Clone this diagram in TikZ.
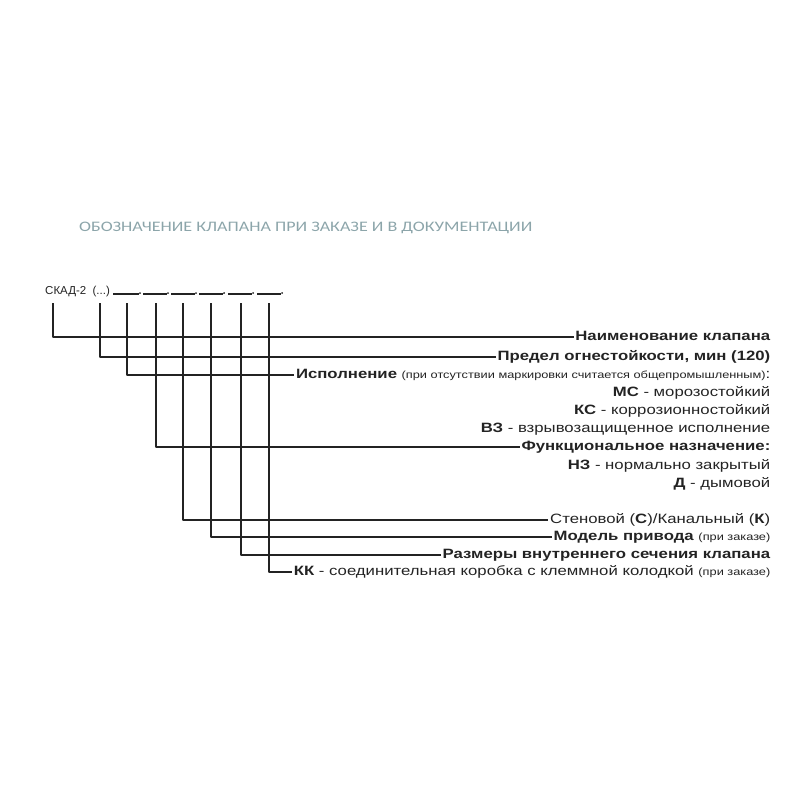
\documentclass[tikz,border=0pt]{standalone}
\usepackage{fontspec}
\setmainfont{Liberation Sans}[FakeStretch=1.24]
\newfontfamily\titlefont{Carlito}[FakeStretch=1.245]
\newfontfamily\codefont{Liberation Sans}
\usetikzlibrary{positioning}
\definecolor{titlegray}{RGB}{140,165,170}
\definecolor{inkgray}{RGB}{35,35,35}
\newcommand\zakaz[1]{{\fontsize{10.3}{11}\selectfont #1}}

\begin{document}
\begin{tikzpicture}[x=1pt,y=-1pt,line join=round,
  lead/.style={draw=inkgray,line width=1.8pt},
  blank/.style={draw=inkgray,line width=1.3pt},
  lbl/.style={anchor=east,inner sep=1.5pt,text height=10pt,text depth=3pt,
    font=\fontsize{13.5}{15}\selectfont,text=inkgray}]
\useasboundingbox (0,0) rectangle (800,800);
% title
\node[anchor=west,inner sep=0pt,text=titlegray,font=\titlefont\fontsize{14.5}{16}\selectfont] (title) at (79,228)
  {ОБОЗНАЧЕНИЕ КЛАПАНА ПРИ ЗАКАЗЕ И В ДОКУМЕНТАЦИИ};
% code line
\node[anchor=west,inner sep=0pt,text=inkgray,font=\codefont\fontsize{11.5}{13}\selectfont] (code) at (45,292) {СКАД-2\ \ (...)};
\draw[blank] (113,294)--(139,294); \fill[inkgray] (140,293) circle (1);
\draw[blank] (143,294)--(167,294); \fill[inkgray] (168,293) circle (1);
\draw[blank] (171,294)--(195,294); \fill[inkgray] (196,293) circle (1);
\draw[blank] (199,294)--(223,294); \fill[inkgray] (224,293) circle (1);
\draw[blank] (228,294)--(252,294); \fill[inkgray] (253,293) circle (1);
\draw[blank] (257,294)--(281,294); \fill[inkgray] (282,293) circle (1);
% tops of the leaders
\coordinate (t1) at ( 53,303);
\coordinate (t2) at (100,303);
\coordinate (t3) at (127,303);
\coordinate (t4) at (156,303);
\coordinate (t5) at (183,303);
\coordinate (t6) at (211,303);
\coordinate (t7) at (241,303);
\coordinate (t8) at (269,303);
% labels
\node[lbl] (name)  at (772,337) {\textbf{Наименование клапана}};
\node[lbl] (fire)  at (772,357) {\textbf{Предел огнестойкости, мин (120)}};
\node[lbl] (exec)  at (772,375) {\textbf{Исполнение} \zakaz{(при отсутствии маркировки считается общепромышленным)}:};
\node[lbl] (ms)    at (772,393) {\textbf{МС} - морозостойкий};
\node[lbl] (ks)    at (772,411) {\textbf{КС} - коррозионностойкий};
\node[lbl] (vz)    at (772,429) {\textbf{ВЗ} - взрывозащищенное исполнение};
\node[lbl] (func)  at (772,447) {\textbf{Функциональное назначение:}};
\node[lbl] (nz)    at (772,466) {\textbf{НЗ} - нормально закрытый};
\node[lbl] (smoke) at (772,484) {\textbf{Д} - дымовой};
\node[lbl] (wall)  at (772,520) {Стеновой (\textbf{С})/Канальный (\textbf{К})};
\node[lbl] (drive) at (772,537) {\textbf{Модель привода} \zakaz{(при заказе)}};
\node[lbl] (size)  at (772,555) {\textbf{Размеры внутреннего сечения клапана}};
\node[lbl] (box)   at (772,572) {\textbf{КК} - соединительная коробка с клеммной колодкой \zakaz{(при заказе)}};
% leaders
\draw[lead] (t1) |- (name.west);
\draw[lead] (t2) |- (fire.west);
\draw[lead] (t3) |- (exec.west);
\draw[lead] (t4) |- (func.west);
\draw[lead] (t5) |- (wall.west);
\draw[lead] (t6) |- (drive.west);
\draw[lead] (t7) |- (size.west);
\draw[lead] (t8) |- (box.west);
\end{tikzpicture}
\end{document}
